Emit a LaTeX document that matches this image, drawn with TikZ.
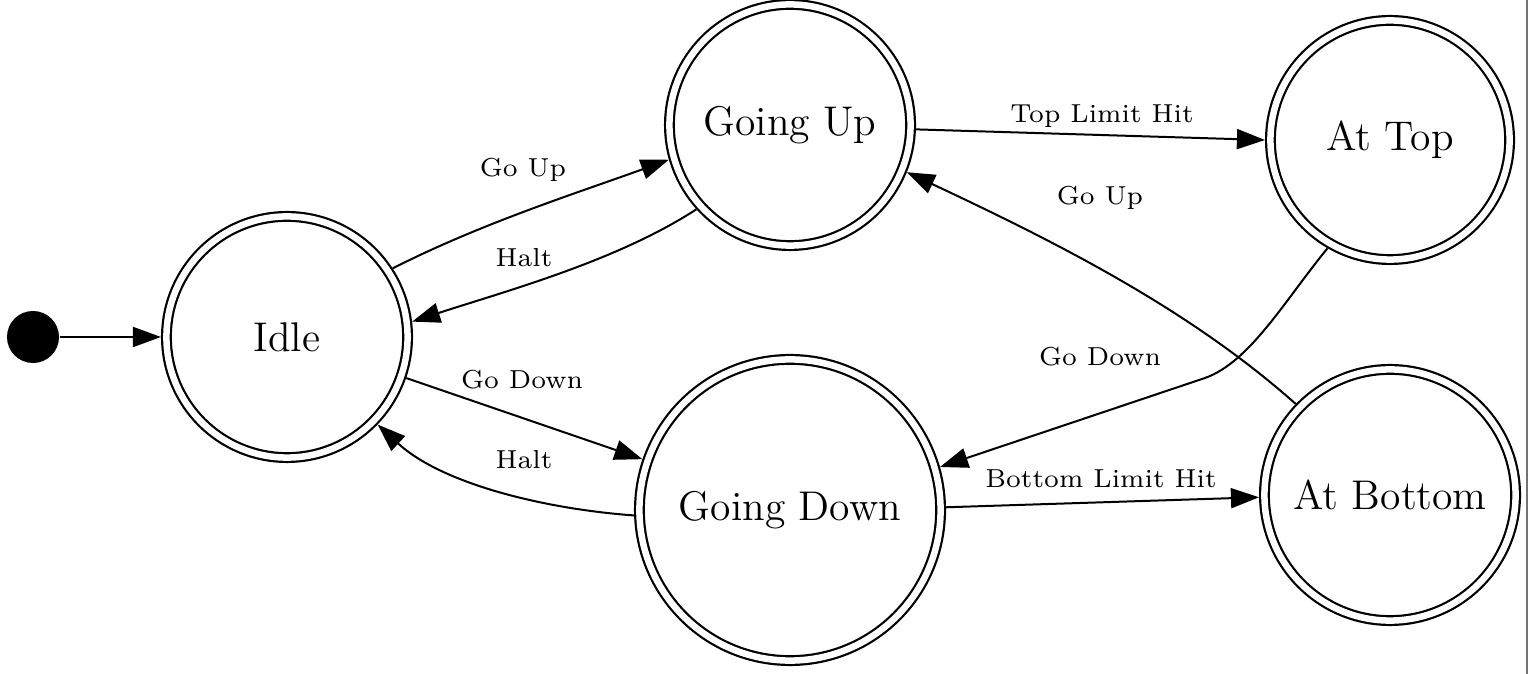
\documentclass[tikz,border=0pt]{standalone}
\usetikzlibrary{arrows.meta}

\tikzset{
  state/.style={circle, draw, line width=0.022cm, double, double distance=0.065cm,
    inner sep=0pt, outer sep=0.055cm, font=\fontsize{11.8}{14}\selectfont},
  initial/.style={circle, fill=black, inner sep=0pt, minimum size=0.52cm},
  trans/.style={-{Triangle[length=0.28cm,width=0.2cm]}, line width=0.02cm},
  lbl/.style={font=\fontsize{7.4}{9}\selectfont, inner sep=0pt},
}

\begin{document}
\begin{tikzpicture}[x=0.01cm, y=-0.01cm]
    \useasboundingbox (0,0) rectangle (1534,674);
    \draw[black!55, line width=0.02cm] (1527,0) -- (1527,674);

    % states
    \node[initial] (start) at (33,337) {};
    \node[state, minimum size=2.41cm] (idle) at (287,337) {Idle};
    \node[state, minimum size=2.41cm] (goingup) at (790,125) {Going Up};
    \node[state, minimum size=3.01cm] (goingdown) at (790,510) {Going Down};
    \node[state, minimum size=2.39cm] (attop) at (1390,140) {At Top};
    \node[state, minimum size=2.51cm] (atbottom) at (1390,495) {At Bottom};

    % transitions
    \draw[trans] (start) -- (idle);
    \draw[trans] (idle.33) .. controls (482,223) and (580,192) .. (goingup.196);
    \draw[trans] (goingup.222) .. controls (617,261) and (506,291) .. (idle.7);
    \draw[trans] (idle.-19) -- (goingdown.161);
    \draw[trans] (goingdown.182) .. controls (545,509) and (442,484) .. (idle.-44);
    \draw[trans] (goingup.-2) -- (attop.180);
    \draw[trans] (atbottom.136) .. controls (1190,310) and (1060,244) .. (goingup.-22);
    \draw[trans] (attop.240) .. controls (1285,300) and (1250,362) .. (1205,378) -- (goingdown.16);
    \draw[trans] (goingdown.1) -- (atbottom.181);

    % labels
    \node[lbl] (goup1) at (523,170) {Go Up};
    \node[lbl] (halt1) at (524,258) {Halt};
    \node[lbl] (godown1) at (522,380) {Go Down};
    \node[lbl] (halt2) at (524,460) {Halt};
    \node[lbl] (tophit) at (1102,116) {Top Limit Hit};
    \node[lbl] (goup2) at (1100,198) {Go Up};
    \node[lbl] (godown2) at (1100,357) {Go Down};
    \node[lbl] (bothit) at (1101,479) {Bottom Limit Hit};
\end{tikzpicture}
\end{document}
